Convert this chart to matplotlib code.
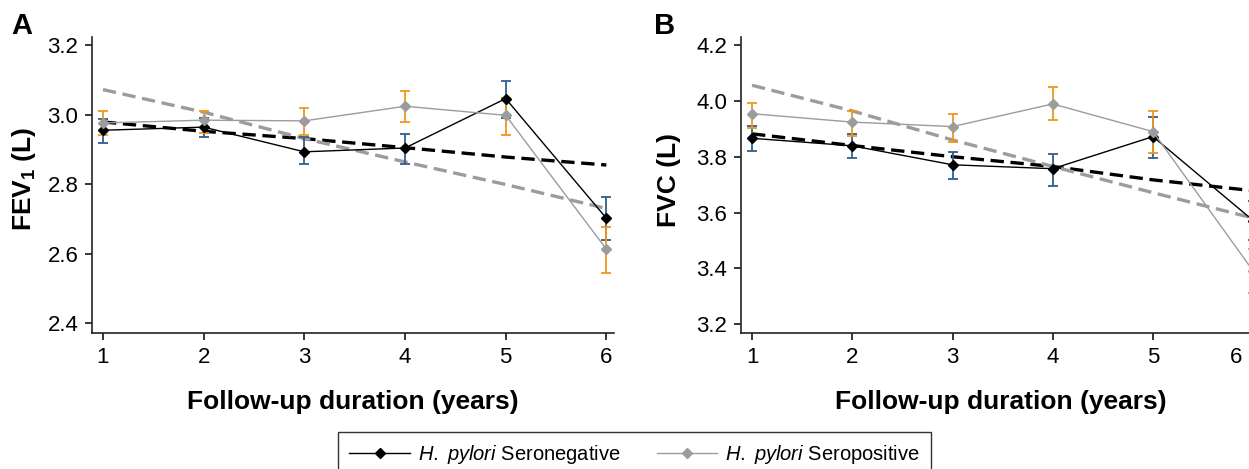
import matplotlib
matplotlib.use("Agg")
import matplotlib.pyplot as plt
import matplotlib.transforms as mtransforms
from matplotlib.lines import Line2D
import numpy as np

plt.rcParams['font.family'] = ['Liberation Sans', 'DejaVu Sans']
plt.rcParams['mathtext.fontset'] = 'custom'
plt.rcParams['mathtext.rm'] = 'Liberation Sans'
plt.rcParams['mathtext.it'] = 'Liberation Sans:italic'
plt.rcParams['mathtext.bf'] = 'Liberation Sans:bold'

# follow-up years
years = [1, 2, 3, 4, 5, 6]

# Panel A: FEV1 (L)
fev_neg = [2.955, 2.964, 2.893, 2.904, 3.046, 2.702]
fev_neg_lo = [2.918, 2.935, 2.857, 2.857, 2.991, 2.639]
fev_neg_hi = [2.988, 2.990, 2.936, 2.945, 3.096, 2.764]
fev_pos = [2.976, 2.984, 2.982, 3.024, 2.998, 2.613]
fev_pos_lo = [2.941, 2.946, 2.941, 2.980, 2.941, 2.544]
fev_pos_hi = [3.010, 3.010, 3.019, 3.069, 3.048, 2.676]
fev_neg_fit = [2.979, 2.952, 2.931, 2.905, 2.878, 2.855]
fev_pos_fit = [3.072, 3.007, 2.931, 2.864, 2.799, 2.730]

# Panel B: FVC (L)
fvc_neg = [3.866, 3.839, 3.771, 3.757, 3.872, 3.571]
fvc_neg_lo = [3.819, 3.797, 3.719, 3.695, 3.797, 3.50]
fvc_neg_hi = [3.911, 3.880, 3.818, 3.810, 3.944, 3.64]
fvc_pos = [3.954, 3.924, 3.908, 3.989, 3.890, 3.390]
fvc_pos_lo = [3.902, 3.875, 3.854, 3.932, 3.812, 3.31]
fvc_pos_hi = [3.994, 3.964, 3.953, 4.051, 3.962, 3.47]
fvc_neg_fit = [3.882, 3.840, 3.800, 3.765, 3.717, 3.678]
fvc_pos_fit = [4.056, 3.964, 3.860, 3.765, 3.671, 3.580]

NEG = 'black'
POS = '#9c9c9c'
NEG_ERR = '#2f5f8e'
POS_ERR = '#f0961e'


def draw_panel(ax, neg, nlo, nhi, pos, plo, phi, nfit, pfit):
    x = np.array(years)
    ax.plot(x, nfit, color=NEG, lw=2.4, ls=(0, (4, 2)), zorder=3)
    ax.plot(x, pfit, color=POS, lw=2.4, ls=(0, (4, 2)), zorder=3)
    n = np.array(neg)
    p = np.array(pos)
    ax.errorbar(x, n, yerr=[n - np.array(nlo), np.array(nhi) - n], fmt='none',
                ecolor=NEG_ERR, elinewidth=1.3, capsize=3.5, capthick=1.3, zorder=4)
    ax.errorbar(x, p, yerr=[p - np.array(plo), np.array(phi) - p], fmt='none',
                ecolor=POS_ERR, elinewidth=1.3, capsize=3.5, capthick=1.3, zorder=4)
    ax.plot(x, n, color=NEG, lw=1.0, marker='D', ms=5, zorder=5)
    ax.plot(x, p, color=POS, lw=1.0, marker='D', ms=5, zorder=5)
    ax.set_xticks(years)
    for side in ['top', 'right']:
        ax.spines[side].set_visible(False)
    for side in ['left', 'bottom']:
        ax.spines[side].set_linewidth(1.2)
        ax.spines[side].set_color('#222222')
    ax.tick_params(direction='out', length=5, width=1.1, labelsize=16, pad=5)
    ax.set_xlabel('Follow-up duration (years)', fontsize=19, fontweight='bold')
    ax.xaxis.set_label_coords(0.5, -0.19)


fig = plt.figure(figsize=(12.49, 4.69), dpi=100)
ax_a = fig.add_axes([0.0739, 0.2893, 0.4177, 0.6324])
ax_b = fig.add_axes([0.5933, 0.2893, 0.4165, 0.6324])

draw_panel(ax_a, fev_neg, fev_neg_lo, fev_neg_hi, fev_pos, fev_pos_lo, fev_pos_hi,
           fev_neg_fit, fev_pos_fit)
ax_a.set_xlim(0.894, 6.076)
ax_a.set_ylim(2.371, 3.224)
ax_a.set_yticks([2.4, 2.6, 2.8, 3.0, 3.2])
ax_a.set_yticklabels(['2.4', '2.6', '2.8', '3.0', '3.2'])
ax_a.set_ylabel(r'FEV$_{\mathbf{1}}$ (L)', fontsize=19, fontweight='bold')
ax_a.yaxis.set_label_coords(-0.104, 0.52)

draw_panel(ax_b, fvc_neg, fvc_neg_lo, fvc_neg_hi, fvc_pos, fvc_pos_lo, fvc_pos_hi,
           fvc_neg_fit, fvc_pos_fit)
ax_b.set_xlim(0.89, 6.08)
ax_b.set_ylim(3.167, 4.23)
ax_b.set_yticks([3.2, 3.4, 3.6, 3.8, 4.0, 4.2])
ax_b.set_yticklabels(['3.2', '3.4', '3.6', '3.8', '4.0', '4.2'])
ax_b.set_ylabel('FVC (L)', fontsize=19, fontweight='bold')
ax_b.yaxis.set_label_coords(-0.115, 0.517)
# last tick label of panel B sits inside the visible edge
shift = mtransforms.ScaledTranslation(-17 / 100, 0, fig.dpi_scale_trans)
lbl6 = ax_b.get_xticklabels()[-1]
lbl6.set_transform(lbl6.get_transform() + shift)

fig.text(0.009, 0.975, 'A', fontsize=21, fontweight='bold', va='top', ha='left')
fig.text(0.524, 0.975, 'B', fontsize=21, fontweight='bold', va='top', ha='left')

handles = [Line2D([], [], color=NEG, lw=1.0, marker='D', ms=5),
           Line2D([], [], color=POS, lw=1.0, marker='D', ms=5)]
labels = [r'$\it{H.}$ $\it{pylori}$ Seronegative', r'$\it{H.}$ $\it{pylori}$ Seropositive']
leg = fig.legend(handles, labels, loc='upper center', bbox_to_anchor=(0.508, 0.079),
                 ncol=2, fontsize=14.5, frameon=True, fancybox=False, edgecolor='black',
                 handlelength=3.0, handletextpad=0.4, columnspacing=1.8,
                 borderpad=0.55, borderaxespad=0.0)
leg.get_frame().set_linewidth(1.0)

fig.savefig('out.png', dpi=100)
